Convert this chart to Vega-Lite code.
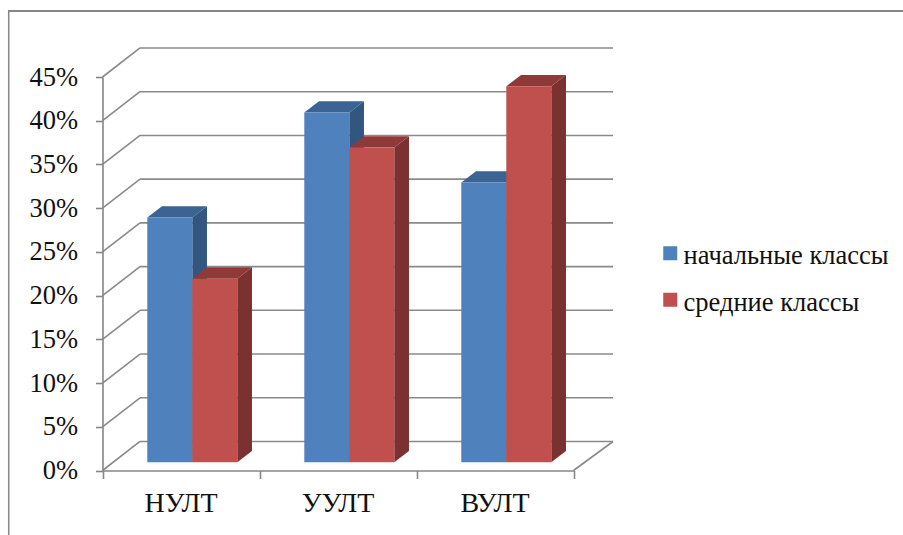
{
  "$schema": "https://vega.github.io/schema/vega-lite/v6.json",
  "width": 895,
  "height": 525,
  "autosize": "none",
  "padding": {"left": 8, "top": 10, "right": 0, "bottom": 0},
  "background": "white",
  "view": {"stroke": null},
  "config": {"font": "'Liberation Serif', 'Times New Roman', serif"},
  "datasets": {
    "bars": [
      {"group": "НУЛТ", "series": "начальные классы", "value": 0.28},
      {"group": "НУЛТ", "series": "средние классы", "value": 0.21},
      {"group": "УУЛТ", "series": "начальные классы", "value": 0.40},
      {"group": "УУЛТ", "series": "средние классы", "value": 0.36},
      {"group": "ВУЛТ", "series": "начальные классы", "value": 0.32},
      {"group": "ВУЛТ", "series": "средние классы", "value": 0.43}
    ],
    "levels": [
      {"level": 0}, {"level": 0.05}, {"level": 0.10}, {"level": 0.15}, {"level": 0.20},
      {"level": 0.25}, {"level": 0.30}, {"level": 0.35}, {"level": 0.40}, {"level": 0.45}
    ],
    "groups": [{"group": "НУЛТ"}, {"group": "УУЛТ"}, {"group": "ВУЛТ"}],
    "frame": [{"part": "border"}],
    "floor": [{"part": "floor edge"}]
  },
  "layer": [
    {
      "description": "Outer border, left side",
      "data": {"name": "frame"},
      "mark": {"type": "rule", "color": "#868686", "strokeWidth": 1.5},
      "encoding": {"x": {"datum": -0.5974, "type": "quantitative"}}
    },
    {
      "description": "Outer border, top side",
      "data": {"name": "frame"},
      "mark": {"type": "rule", "color": "#868686", "strokeWidth": 2},
      "encoding": {"y": {"datum": 0.5255, "type": "quantitative"}}
    },
    {
      "description": "Axes with the value and category scales; front corner of the box",
      "data": {"name": "levels"},
      "mark": {"type": "rule", "color": "#8a8a8a", "strokeWidth": 1.6},
      "transform": [{"calculate": "datum.level + 0.03318", "as": "back"}],
      "encoding": {
        "x": {
          "datum": 0,
          "type": "quantitative",
          "scale": {"domain": [0, 3], "range": [94.5, 565.5], "nice": false, "zero": false},
          "axis": {
            "orient": "bottom",
            "offset": -64.5,
            "values": [0, 1, 2, 3],
            "labels": false,
            "grid": false,
            "title": null,
            "domainColor": "#868686",
            "domainWidth": 1.6,
            "tickColor": "#868686",
            "tickWidth": 1.6,
            "tickSize": 8
          }
        },
        "x2": {"datum": 0.2389},
        "y": {
          "field": "level",
          "type": "quantitative",
          "scale": {"domain": [0, 0.45], "range": [460.5, 67], "nice": false, "zero": false},
          "axis": {
            "orient": "left",
            "offset": -94.5,
            "values": [0, 0.05, 0.1, 0.15, 0.2, 0.25, 0.3, 0.35, 0.4, 0.45],
            "format": ".0%",
            "grid": false,
            "title": null,
            "domainColor": "#868686",
            "domainWidth": 1.6,
            "tickColor": "#868686",
            "tickWidth": 1.6,
            "tickSize": 7,
            "labelFont": "'Liberation Serif', 'Times New Roman', serif",
            "labelFontSize": 26.5,
            "labelColor": "#111111",
            "labelPadding": 18
          }
        },
        "y2": {"field": "back"}
      }
    },
    {
      "description": "Back wall lines",
      "data": {"name": "levels"},
      "mark": {"type": "rule", "color": "#8a8a8a", "strokeWidth": 1.6},
      "transform": [{"calculate": "datum.level + 0.03318", "as": "back"}],
      "encoding": {
        "x": {"datum": 0.2389, "type": "quantitative"},
        "x2": {"datum": 3.2516},
        "y": {"field": "back", "type": "quantitative"}
      }
    },
    {
      "description": "Right edge of the floor",
      "data": {"name": "floor"},
      "mark": {"type": "rule", "color": "#8a8a8a", "strokeWidth": 1.6},
      "encoding": {
        "x": {"datum": 3, "type": "quantitative"},
        "x2": {"datum": 3.2516},
        "y": {"datum": 0, "type": "quantitative"},
        "y2": {"datum": 0.03318}
      }
    },
    {
      "description": "Right faces of the columns",
      "data": {"name": "bars"},
      "transform": [
        {"calculate": "indexof(['НУЛТ','УУЛТ','ВУЛТ'], datum.group) + 0.2853 + (datum.series === 'средние классы' ? 0.2866 : 0)", "as": "left"},
        {"calculate": "datum.group + datum.series", "as": "bar"},
        {"calculate": "[0, 1]", "as": "corner"},
        {"flatten": ["corner"]},
        {"calculate": "datum.left + 0.2866 + datum.corner * 0.0936", "as": "sx"},
        {"calculate": "datum.value + 0.0094 + datum.corner * 0.01292", "as": "stop"},
        {"calculate": "0.0094 + datum.corner * 0.01292", "as": "sbase"}
      ],
      "mark": {"type": "area", "orient": "vertical"},
      "encoding": {
        "x": {"field": "sx", "type": "quantitative"},
        "y": {"field": "stop", "type": "quantitative", "stack": null},
        "y2": {"field": "sbase"},
        "detail": {"field": "bar"},
        "color": {
          "condition": {"test": "datum.series === 'начальные классы'", "value": "#335681"},
          "value": "#7B312F"
        }
      }
    },
    {
      "description": "Top faces of the columns",
      "data": {"name": "bars"},
      "transform": [
        {"calculate": "indexof(['НУЛТ','УУЛТ','ВУЛТ'], datum.group) + 0.2853 + (datum.series === 'средние классы' ? 0.2866 : 0)", "as": "left"},
        {"calculate": "datum.group + datum.series", "as": "bar"},
        {"calculate": "[0, 1]", "as": "corner"},
        {"flatten": ["corner"]},
        {"calculate": "datum.left + datum.corner * 0.0936", "as": "tx"},
        {"calculate": "datum.left + 0.2866 + datum.corner * 0.0936", "as": "tx2"},
        {"calculate": "datum.value + 0.0094 + datum.corner * 0.01292", "as": "ty"}
      ],
      "mark": {"type": "area", "orient": "horizontal"},
      "encoding": {
        "x": {"field": "tx", "type": "quantitative", "stack": null},
        "x2": {"field": "tx2"},
        "y": {"field": "ty", "type": "quantitative"},
        "detail": {"field": "bar"},
        "color": {
          "condition": {"test": "datum.series === 'начальные классы'", "value": "#3B6393"},
          "value": "#8F3A38"
        }
      }
    },
    {
      "description": "Front faces of the columns",
      "data": {"name": "bars"},
      "transform": [
        {"calculate": "indexof(['НУЛТ','УУЛТ','ВУЛТ'], datum.group) + 0.2853 + (datum.series === 'средние классы' ? 0.2866 : 0)", "as": "left"},
        {"calculate": "datum.left + 0.2866", "as": "right"}
      ],
      "mark": {"type": "rect", "yOffset": -8.2, "y2Offset": -8.2},
      "encoding": {
        "x": {"field": "left", "type": "quantitative"},
        "x2": {"field": "right"},
        "y": {"field": "value", "type": "quantitative"},
        "y2": {"datum": 0},
        "fill": {
          "field": "series",
          "type": "nominal",
          "sort": ["начальные классы", "средние классы"],
          "scale": {"domain": ["начальные классы", "средние классы"], "range": ["#4F81BD", "#C0504D"]},
          "legend": {
            "orient": "none",
            "legendX": 649,
            "legendY": 230,
            "title": null,
            "padding": 0,
            "symbolType": "square",
            "symbolSize": 196,
            "symbolStrokeWidth": 0,
            "symbolOpacity": 1,
            "labelFont": "'Liberation Serif', 'Times New Roman', serif",
            "labelFontSize": 26.5,
            "labelColor": "#111111",
            "labelOffset": 0,
            "rowPadding": 16.5,
            "labelLimit": 300,
            "encode": {"labels": {"update": {"dy": {"value": 3}}}}
          }
        }
      }
    },
    {
      "description": "Category names under the axis",
      "data": {"name": "groups"},
      "transform": [
        {"calculate": "indexof(['НУЛТ','УУЛТ','ВУЛТ'], datum.group) + 0.5", "as": "center"}
      ],
      "mark": {"type": "text", "font": "'Liberation Serif', 'Times New Roman', serif", "fontSize": 28, "color": "#111111", "baseline": "alphabetic", "dy": 41},
      "encoding": {
        "x": {"field": "center", "type": "quantitative"},
        "y": {"datum": 0, "type": "quantitative"},
        "text": {"field": "group", "type": "nominal"}
      }
    }
  ]
}
